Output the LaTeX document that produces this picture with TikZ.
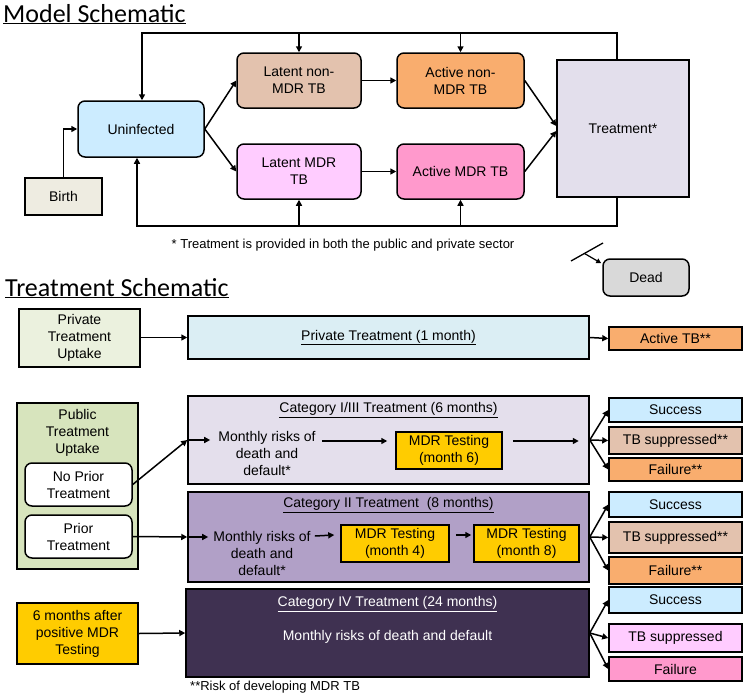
\documentclass[tikz,border=0pt]{standalone}
\usepackage{fontspec}
\setmainfont{Liberation Sans}
\newfontfamily\titlefont{Carlito}
\usetikzlibrary{arrows.meta,calc}
\definecolor{cUnin}{HTML}{CCECFF}
\definecolor{cLnon}{HTML}{E3C2AE}
\definecolor{cLmdr}{HTML}{FFCCFF}
\definecolor{cAnon}{HTML}{F9AD6E}
\definecolor{cAmdr}{HTML}{FF99CC}
\definecolor{cTreat}{HTML}{E3DFEC}
\definecolor{cBirth}{HTML}{EEECE1}
\definecolor{cDead}{HTML}{D9D9D9}
\definecolor{cPtu}{HTML}{EBF1DE}
\definecolor{cPtb}{HTML}{DBEEF4}
\definecolor{cPub}{HTML}{D7E4BD}
\definecolor{cCat13}{HTML}{E4DFEC}
\definecolor{cCat2}{HTML}{B1A0C7}
\definecolor{cCat4}{HTML}{3F3151}
\definecolor{cGold}{HTML}{FFCC00}
\begin{document}
\begin{tikzpicture}[x=1pt,y=-1pt,
  box/.style={draw=black, line width=1.5pt, align=center, inner sep=1pt, font=\fontsize{14}{17}\selectfont},
  rbox/.style={box, rounded corners=7pt},
  txt/.style={align=center, inner sep=0pt, font=\fontsize{14}{17}\selectfont},
  arr/.style={line width=1.5pt, -{Triangle[length=6pt,width=6pt]}},
  ln/.style={line width=1.5pt},
  ttl/.style={inner sep=0pt, anchor=base west, font=\titlefont\fontsize{26}{30}\selectfont}]
\useasboundingbox (0,0) rectangle (747,699);

% ---------------- Model schematic ----------------
\node[ttl] (t1) at (3,22) {\underline{Model Schematic}};

\node[rbox, fill=cUnin, minimum width=126pt, minimum height=56pt] (unin) at (141,129) {Uninfected};
\node[rbox, fill=cLnon, minimum width=124pt, minimum height=55pt] (lnon) at (299,80.5) {Latent non-\\MDR TB};
\node[rbox, fill=cLmdr, minimum width=124pt, minimum height=55pt] (lmdr) at (299,171.5) {Latent MDR\\TB};
\node[rbox, fill=cAnon, minimum width=127pt, minimum height=55pt] (anon) at (460.5,80.5) {Active non-\\MDR TB};
\node[rbox, fill=cAmdr, minimum width=127pt, minimum height=55pt] (amdr) at (460.5,171.5) {Active MDR TB};
\node[box, fill=cTreat, minimum width=132pt, minimum height=137pt] (treat) at (623,128.5) {Treatment*};
\node[box, fill=cBirth, minimum width=77pt, minimum height=37pt] (birth) at (63.5,196.5) {Birth};
\node[rbox, fill=cDead, minimum width=86pt, minimum height=37pt] (dead) at (646,277.5) {Dead};

\coordinate (tl) at (142,33); \coordinate (tr) at (617,33);
\draw[arr] (tr |- treat.north) -- (tr) -- (tl) -- (tl |- unin.north);
\draw[arr] (lnon.north |- tl) -- (lnon.north);
\draw[arr] (anon.north |- tl) -- (anon.north);
\coordinate (bl) at (137,226); \coordinate (br) at (617,226);
\draw[arr] (br |- treat.south) -- (br) -- (bl) -- (bl |- unin.south);
\draw[arr] (lmdr.south |- bl) -- (lmdr.south);
\draw[arr] (amdr.south |- bl) -- (amdr.south);
\draw[arr] (birth.north) |- (unin.west);
\draw[arr] (unin.east) -- (lnon.west);
\draw[arr] (unin.east) -- (lmdr.west);
\draw[arr] (lnon.east) -- (anon.west);
\draw[arr] (lmdr.east) -- (amdr.west);
\draw[arr] (anon.east) -- ([yshift=2.5pt]treat.west);
\draw[arr] (amdr.east) -- ([yshift=-2.5pt]treat.west);

\node[txt, font=\fontsize{13}{16}\selectfont] (note1) at (343,245) {* Treatment is provided in both the public and private sector};

\coordinate (k1) at (571,261); \coordinate (k2) at (603,243);
\draw[ln, line width=1.3pt] (k1) -- (k2);
\draw[line width=1.2pt, -{Triangle[length=5pt,width=5pt]}] ($(k1)!0.42!(k2)$) -- ([xshift=-1pt,yshift=-5pt]dead.north west);

% ---------------- Treatment schematic ----------------
\node[ttl] (t2) at (5,296) {\underline{Treatment Schematic}};

\node[box, fill=cPtu, minimum width=121pt, minimum height=58pt] (ptu) at (79.5,338) {Private\\Treatment\\Uptake};
\node[box, fill=cPtb, minimum width=401pt, minimum height=43pt] (ptb) at (388.5,337.5) {\underline{Private Treatment (1 month)}};
\node[box, fill=cAnon, minimum width=133pt, minimum height=23pt] (atb) at (675.5,338.5) {Active TB**};
\draw[arr] (ptu.east |- ptb.west) -- (ptb.west);
\draw[arr] (ptb.east) -- (atb.west);

% public uptake
\node[box, fill=cPub, minimum width=121pt, minimum height=166pt] (pub) at (77.5,486) {};
\node[txt] (pubt) at (77.5,433) {Public\\Treatment\\Uptake};
\node[rbox, fill=white, minimum width=107pt, minimum height=43pt] (npt) at (78.5,484.5) {No Prior\\Treatment};
\node[rbox, fill=white, minimum width=107pt, minimum height=43pt] (prt) at (78.5,536.5) {Prior\\Treatment};

% Category I/III
\node[box, fill=cCat13, minimum width=401pt, minimum height=88pt] (c13) at (388.5,440) {};
\node[txt] (c13t) at (388.5,410) {\underline{Category I/III Treatment (6 months)}};
\node[txt] (m13) at (267,453) {Monthly risks of\\death and\\default*};
\node[box, fill=cGold, minimum width=106pt, minimum height=37pt] (t6) at (449,450.5) {MDR Testing\\(month 6)};
\draw[arr] (npt.east) -- (c13.west);
\draw[arr] (c13.west) -- ([xshift=-8pt]m13.west |- c13.west);
\draw[arr] ($(m13.east)+(6,-12)$) -- ($(t6.west)+(-8,-9.5)$);
\draw[arr] ($(t6.east)+(10,-9.5)$) -- ($(t6.east)+(76,-9.5)$);
\node[box, fill=cUnin, minimum width=133pt, minimum height=24pt] (s1) at (675.5,410) {Success};
\node[box, fill=cLnon, minimum width=133pt, minimum height=27pt] (ts1) at (675.5,440.5) {TB suppressed**};
\node[box, fill=cAnon, minimum width=133pt, minimum height=23pt] (f1) at (675.5,469.5) {Failure**};
\draw[arr] (c13.east) -- (s1.west);
\draw[arr] (c13.east) -- (ts1.west);
\draw[arr] (c13.east) -- (f1.west);

% Category II
\node[box, fill=cCat2, minimum width=401pt, minimum height=90pt] (c2) at (388.5,537) {};
\node[txt] (c2t) at (388.5,505) {\underline{Category II Treatment\ \ (8 months)}};
\node[txt] (m2) at (262,553) {Monthly risks of\\death and\\default*};
\node[box, fill=cGold, minimum width=108pt, minimum height=37pt] (t4) at (395,543.5) {MDR Testing\\(month 4)};
\node[box, fill=cGold, minimum width=105pt, minimum height=37pt] (t8) at (526.5,543.5) {MDR Testing\\(month 8)};
\draw[arr] (prt.east) -- (c2.west);
\draw[arr] (c2.west) -- ([xshift=-5pt]m2.west |- c2.west);
\draw[arr] ($(m2.east)+(4,-17)$) -- ($(t4.west)+(-6,-8.5)$);
\draw[arr] ($(t4.east)+(6,-8.5)$) -- ($(t8.west)+(-2,-8.5)$);
\node[box, fill=cUnin, minimum width=133pt, minimum height=25pt] (s2) at (675.5,504.5) {Success};
\node[box, fill=cLnon, minimum width=133pt, minimum height=31pt] (ts2) at (675.5,537.5) {TB suppressed**};
\node[box, fill=cAnon, minimum width=133pt, minimum height=27pt] (f2) at (675.5,570.5) {Failure**};
\draw[arr] (c2.east) -- (s2.west);
\draw[arr] (c2.east) -- (ts2.west);
\draw[arr] (c2.east) -- (f2.west);

% Category IV
\node[box, fill=cGold, minimum width=121pt, minimum height=61pt] (six) at (77.5,633.5) {6 months after\\positive MDR\\Testing};
\node[box, fill=cCat4, minimum width=403pt, minimum height=88pt] (c4) at (387.5,633) {};
\node[txt, text=white] (c4t) at (387.5,604) {\underline{Category IV Treatment (24 months)}};
\node[txt, text=white] (m4) at (387.5,637) {Monthly risks of death and default};
\draw[arr] (six.east) -- (c4.west);
\node[box, fill=cUnin, minimum width=133pt, minimum height=26pt] (s3) at (675.5,600) {Success};
\node[box, fill=cLmdr, minimum width=133pt, minimum height=28pt] (ts3) at (675.5,638) {TB suppressed};
\node[box, fill=cAmdr, minimum width=133pt, minimum height=24pt] (f3) at (675.5,669) {Failure};
\draw[arr] (c4.east) -- (s3.west);
\draw[arr] (c4.east) -- (ts3.west);
\draw[arr] (c4.east) -- (f3.west);

\node[txt, anchor=west, font=\fontsize{13}{16}\selectfont] (note2) at (190,687) {**Risk of developing MDR TB};
\end{tikzpicture}
\end{document}
